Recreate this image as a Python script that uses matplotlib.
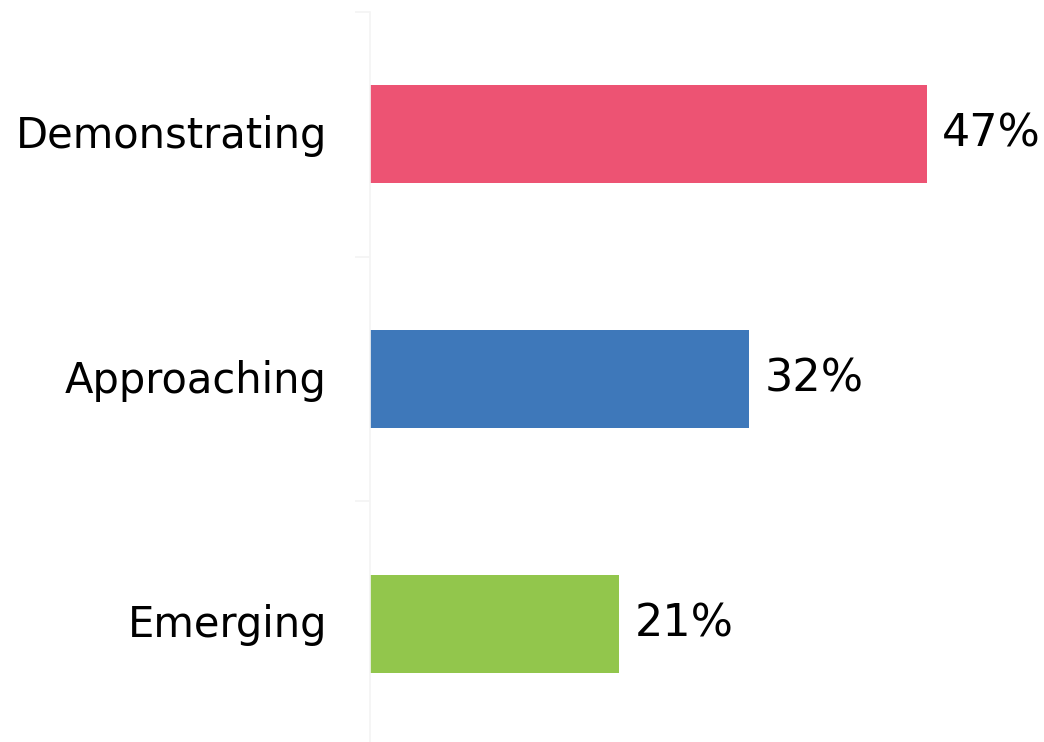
import matplotlib.pyplot as plt
import matplotlib.transforms as mtransforms

categories = ['Emerging', 'Approaching', 'Demonstrating']
values = [21, 32, 47]
colors = ['#92c64c', '#3e78ba', '#ed5373']

fig = plt.figure(figsize=(10.44, 7.42), dpi=100)
# axis line sits at x=370px; bands are ~245px tall starting at y=12px
ax = fig.add_axes([370 / 1044, -4 / 742, (1044 - 370) / 1044, 734 / 742])

ax.barh(categories, values, height=0.4, color=colors)
ax.set_xlim(0, (1044 - 370) / 11.85)
ax.set_ylim(-0.5, 2.5)

for i, v in enumerate(values):
    ax.text(v + 1.3, i, f'{v}%', va='center', ha='left', fontsize=32, color='black')

for side in ['top', 'right', 'bottom']:
    ax.spines[side].set_visible(False)
ax.spines['left'].set_color('#f4f4f4')
ax.spines['left'].set_linewidth(1.2)

ax.set_xticks([])
ax.set_yticks([-0.5, 0.5, 1.5, 2.5])
ax.set_yticklabels([])
ax.tick_params(axis='y', length=11, color='#f4f4f4', width=1.2)
ax.set_yticks([0, 1, 2], minor=True)
ax.set_yticklabels(categories, minor=True, fontsize=30)
ax.tick_params(axis='y', which='minor', length=0, pad=31)

# nudge category labels up a little
shift = mtransforms.ScaledTranslation(0, 3 / 100, fig.dpi_scale_trans)
for lbl in ax.get_yticklabels(minor=True):
    lbl.set_transform(lbl.get_transform() + shift)

fig.savefig('out.png', dpi=100)
